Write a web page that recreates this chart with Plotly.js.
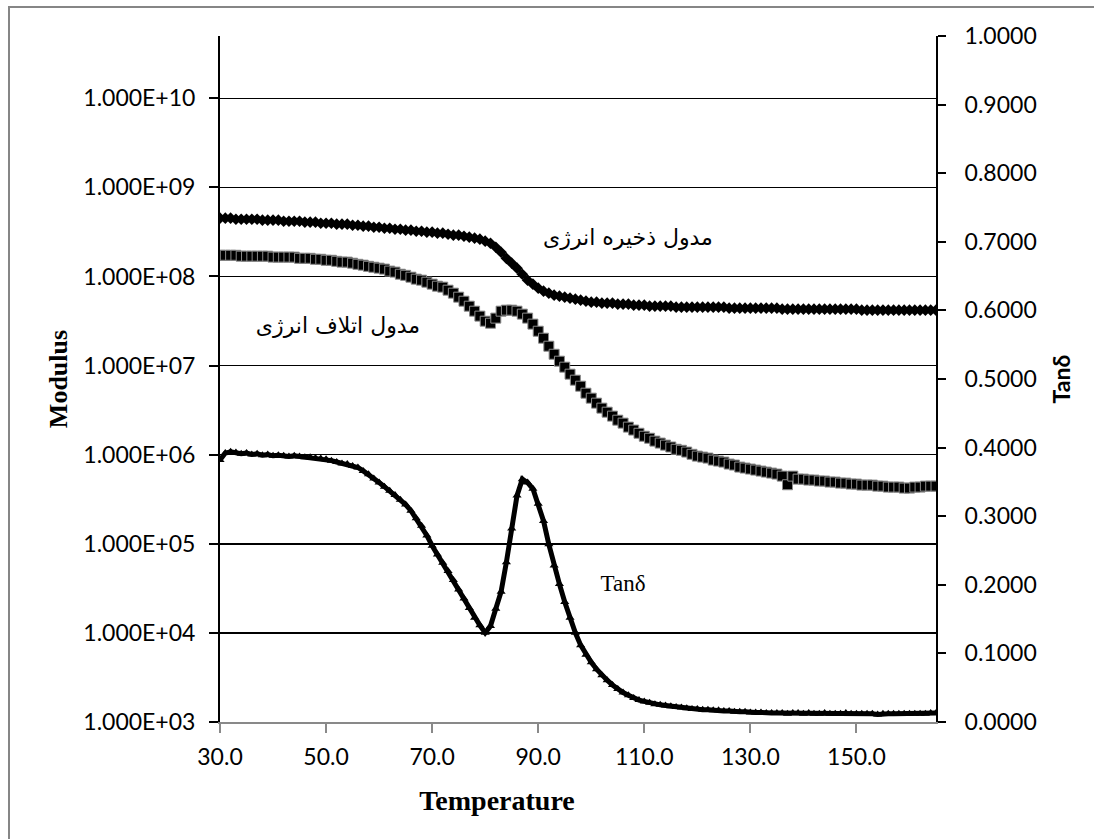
<!DOCTYPE html>
<html>
<head>
<meta charset="utf-8">
<script src="https://cdn.plot.ly/plotly-3.0.1.min.js"></script>
<style>html,body{margin:0;padding:0;background:#fff;}#chart{width:1094px;height:839px;}</style>
</head>
<body>
<div id="chart"></div>
<script>
// Temperature (°C)
var temperature = [30,31,32,33,34,35,36,37,38,39,40,41,42,43,44,45,46,47,48,49,50,51,52,53,54,55,56,57,58,59,60,61,62,63,64,65,66,67,68,69,70,71,72,73,74,75,76,77,78,79,80,81,82,83,84,85,86,87,88,89,90,91,92,93,94,95,96,97,98,99,100,101,102,103,104,105,106,107,108,109,110,111,112,113,114,115,116,117,118,119,120,121,122,123,124,125,126,127,128,129,130,131,132,133,134,135,136,137,138,139,140,141,142,143,144,145,146,147,148,149,150,151,152,153,154,155,156,157,158,159,160,161,162,163,164,165];

// Storage modulus (مدول ذخیره انرژی)
var storageModulus = [4.51e8,4.51e8,4.51e8,4.39e8,4.39e8,4.39e8,4.39e8,4.39e8,4.28e8,4.28e8,4.28e8,4.28e8,4.17e8,4.17e8,4.17e8,4.17e8,4.07e8,4.07e8,4.07e8,3.96e8,3.96e8,3.96e8,3.86e8,3.86e8,3.86e8,3.76e8,3.76e8,3.67e8,3.67e8,3.57e8,3.57e8,3.48e8,3.48e8,3.39e8,3.39e8,3.31e8,3.31e8,3.22e8,3.22e8,3.14e8,3.14e8,3.06e8,3.06e8,2.98e8,2.91e8,2.91e8,2.83e8,2.76e8,2.69e8,2.62e8,2.49e8,2.36e8,2.13e8,1.87e8,1.60e8,1.41e8,1.24e8,1.06e8,9.09e7,8.20e7,7.39e7,6.84e7,6.50e7,6.17e7,6.01e7,5.86e7,5.71e7,5.56e7,5.42e7,5.28e7,5.15e7,5.15e7,5.02e7,5.02e7,5.02e7,4.89e7,4.89e7,4.89e7,4.77e7,4.77e7,4.77e7,4.64e7,4.64e7,4.64e7,4.64e7,4.64e7,4.53e7,4.53e7,4.53e7,4.53e7,4.53e7,4.53e7,4.53e7,4.53e7,4.53e7,4.53e7,4.41e7,4.41e7,4.41e7,4.41e7,4.41e7,4.41e7,4.41e7,4.41e7,4.41e7,4.41e7,4.30e7,4.30e7,4.30e7,4.30e7,4.30e7,4.30e7,4.30e7,4.30e7,4.30e7,4.30e7,4.30e7,4.30e7,4.30e7,4.30e7,4.30e7,4.19e7,4.19e7,4.19e7,4.19e7,4.19e7,4.19e7,4.19e7,4.19e7,4.19e7,4.19e7,4.19e7,4.19e7,4.19e7,4.19e7,4.19e7];

// Loss modulus (مدول اتلاف انرژی)
var lossModulus = [1.73e8,1.73e8,1.73e8,1.73e8,1.69e8,1.69e8,1.69e8,1.69e8,1.69e8,1.69e8,1.65e8,1.65e8,1.65e8,1.65e8,1.65e8,1.60e8,1.60e8,1.60e8,1.56e8,1.56e8,1.52e8,1.52e8,1.48e8,1.45e8,1.45e8,1.41e8,1.37e8,1.34e8,1.30e8,1.27e8,1.24e8,1.21e8,1.15e8,1.12e8,1.06e8,1.03e8,9.82e7,9.33e7,9.09e7,8.63e7,8.20e7,7.78e7,7.59e7,7.02e7,6.50e7,5.86e7,5.28e7,4.64e7,4.08e7,3.59e7,3.15e7,2.99e7,3.41e7,4.08e7,4.19e7,4.19e7,4.08e7,3.78e7,3.41e7,2.92e7,2.43e7,2.03e7,1.65e7,1.34e7,1.12e7,9.60e6,8.01e6,6.86e6,5.87e6,4.90e6,4.31e6,3.79e6,3.33e6,3.00e6,2.71e6,2.44e6,2.26e6,2.04e6,1.89e6,1.74e6,1.61e6,1.53e6,1.42e6,1.35e6,1.28e6,1.22e6,1.15e6,1.12e6,1.07e6,1.01e6,9.64e5,9.40e5,9.16e5,8.70e5,8.48e5,8.26e5,7.85e5,7.65e5,7.26e5,7.08e5,6.90e5,6.72e5,6.55e5,6.38e5,6.22e5,6.06e5,5.75e5,4.60e5,5.75e5,5.32e5,5.32e5,5.19e5,5.19e5,5.06e5,5.06e5,4.93e5,4.93e5,4.80e5,4.80e5,4.68e5,4.68e5,4.56e5,4.56e5,4.56e5,4.44e5,4.44e5,4.33e5,4.33e5,4.33e5,4.22e5,4.22e5,4.33e5,4.33e5,4.44e5,4.44e5,4.44e5];

// Tan delta (right axis)
var tanDelta = [0.382,0.392,0.394,0.393,0.391,0.392,0.390,0.391,0.389,0.390,0.388,0.389,0.388,0.387,0.388,0.387,0.386,0.386,0.385,0.384,0.383,0.381,0.379,0.377,0.376,0.373,0.371,0.366,0.361,0.355,0.349,0.343,0.337,0.331,0.324,0.317,0.308,0.297,0.286,0.272,0.257,0.244,0.232,0.220,0.207,0.193,0.180,0.166,0.152,0.141,0.130,0.140,0.165,0.190,0.233,0.282,0.330,0.354,0.349,0.340,0.318,0.293,0.259,0.228,0.201,0.175,0.152,0.130,0.112,0.098,0.087,0.077,0.068,0.061,0.054,0.048,0.043,0.039,0.035,0.032,0.030,0.028,0.026,0.025,0.024,0.023,0.022,0.021,0.020,0.019,0.019,0.018,0.018,0.017,0.017,0.016,0.016,0.015,0.015,0.015,0.014,0.014,0.014,0.013,0.013,0.013,0.013,0.012,0.013,0.013,0.012,0.013,0.012,0.012,0.013,0.012,0.012,0.012,0.013,0.012,0.012,0.012,0.012,0.012,0.011,0.012,0.012,0.012,0.012,0.012,0.012,0.012,0.012,0.012,0.013,0.013];

var xTickVals = [30,50,70,90,110,130,150];
var xTickText = ['30.0','50.0','70.0','90.0','110.0','130.0','150.0'];
var yTickVals = [1e3,1e4,1e5,1e6,1e7,1e8,1e9,1e10];
var yTickText = ['1.000E+03','1.000E+04','1.000E+05','1.000E+06','1.000E+07','1.000E+08','1.000E+09','1.000E+10'];
var y2TickVals = [0,0.1,0.2,0.3,0.4,0.5,0.6,0.7,0.8,0.9,1.0];
var y2TickText = ['0.0000','0.1000','0.2000','0.3000','0.4000','0.5000','0.6000','0.7000','0.8000','0.9000','1.0000'];

var labelStorage = 'مدول ذخیره انرژی';
var labelLoss = 'مدول اتلاف انرژی';
var labelTan = 'Tanδ';

var traces = [
  {x: temperature, y: storageModulus, type: 'scatter', mode: 'lines+markers', yaxis: 'y',
   line: {color: '#000', width: 3}, marker: {symbol: 'diamond', size: 9, color: '#000'}, hoverinfo: 'skip'},
  {x: temperature, y: lossModulus, type: 'scatter', mode: 'lines+markers', yaxis: 'y',
   line: {color: '#000', width: 4}, marker: {symbol: 'square', size: 10, color: '#000', line: {color: '#8a8a8a', width: 1}}, hoverinfo: 'skip'},
  {x: temperature, y: tanDelta, type: 'scatter', mode: 'lines+markers', yaxis: 'y2',
   line: {color: '#000', width: 5}, marker: {symbol: 'triangle-up', size: 8, color: '#000'}, hoverinfo: 'skip'}
];

var tickFont = {family: 'Lato, Carlito, sans-serif', size: 23, color: '#000'};
function px2x(p) { return (p - 220) / 716; }
function py2y(p) { return (722 - p) / 686; }

var layout = {
  width: 1094, height: 839,
  margin: {l: 220, r: 158, t: 36, b: 117},
  paper_bgcolor: '#fff', plot_bgcolor: '#fff',
  showlegend: false,
  xaxis: {range: [30,165], tickvals: xTickVals, ticktext: xTickText, showline: true, linecolor: '#898989', linewidth: 2,
    ticks: 'outside', ticklen: 9, tickwidth: 2, tickcolor: '#898989', showgrid: false, zeroline: false, tickfont: tickFont, ticklabelstandoff: 4},
  yaxis: {type: 'log', range: [3, 10.699], tickvals: yTickVals, ticktext: yTickText, showline: true, linecolor: '#000', linewidth: 2,
    ticks: 'outside', ticklen: 9, tickwidth: 2, tickcolor: '#000', showgrid: true, gridcolor: '#000', gridwidth: 1.5, zeroline: false,
    tickfont: tickFont, ticklabelstandoff: 9},
  yaxis2: {overlaying: 'y', side: 'right', range: [0, 1], tickvals: y2TickVals, ticktext: y2TickText, showline: true, linecolor: '#000', linewidth: 2,
    ticks: 'outside', ticklen: 8, tickwidth: 2, tickcolor: '#000', showgrid: false, zeroline: false, tickfont: tickFont, ticklabelstandoff: 14},
  shapes: [
    {type: 'rect', xref: 'paper', yref: 'paper', x0: px2x(9), x1: px2x(1120), y0: py2y(860), y1: py2y(7), line: {color: '#868686', width: 2}, layer: 'below'}
  ],
  annotations: [
    {xref: 'paper', yref: 'paper', x: px2x(58), y: py2y(379), xanchor: 'center', yanchor: 'middle', width: 120, height: 34, align: 'center', valign: 'middle',
     text: '<b>Modulus</b>', textangle: -90, showarrow: false,
     font: {family: 'Liberation Serif, Times New Roman, serif', size: 26, color: '#000'}},
    {xref: 'paper', yref: 'paper', x: px2x(497), y: py2y(800), xanchor: 'center', yanchor: 'middle', width: 230, height: 36, align: 'center', valign: 'middle',
     text: '<b>Temperature</b>', showarrow: false,
     font: {family: 'Liberation Serif, Times New Roman, serif', size: 28, color: '#000'}},
    {xref: 'paper', yref: 'paper', x: px2x(1061), y: py2y(379), xanchor: 'center', yanchor: 'middle', width: 70, height: 32, align: 'center', valign: 'middle',
     text: '<b>Tanδ</b>', textangle: -90, showarrow: false,
     font: {family: 'Lato, sans-serif', size: 23, color: '#000'}},
    {xref: 'paper', yref: 'paper', x: px2x(628), y: py2y(237), xanchor: 'center', yanchor: 'middle', width: 190, height: 34, align: 'center', valign: 'middle',
     text: labelStorage, showarrow: false, font: {family: 'DejaVu Sans, sans-serif', size: 22, color: '#000'}},
    {xref: 'paper', yref: 'paper', x: px2x(338), y: py2y(325), xanchor: 'center', yanchor: 'middle', width: 190, height: 34, align: 'center', valign: 'middle',
     text: labelLoss, showarrow: false, font: {family: 'DejaVu Sans, sans-serif', size: 22, color: '#000'}},
    {xref: 'paper', yref: 'paper', x: px2x(623), y: py2y(583), xanchor: 'center', yanchor: 'middle', width: 70, height: 32, align: 'center', valign: 'middle',
     text: labelTan, showarrow: false,
     font: {family: 'Liberation Serif, Times New Roman, serif', size: 23, color: '#000'}}
  ]
};

Plotly.newPlot('chart', traces, layout, {staticPlot: true, displayModeBar: false});
</script>
</body>
</html>
